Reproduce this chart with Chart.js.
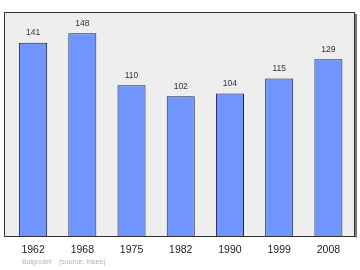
<!DOCTYPE html>
<html><head><meta charset="utf-8">
<script src="https://cdn.jsdelivr.net/npm/chart.js@4"></script>
<style>
html,body{margin:0;padding:0;background:#fff;}
#wrap{position:relative;width:360px;height:270px;}
#cap{position:absolute;left:22px;top:258px;font:7px "Liberation Sans",Arial,sans-serif;color:#b4b4b4;white-space:pre;}
</style></head><body>
<div id="wrap"><canvas id="c" width="360" height="270"></canvas>
<div id="cap">Baignolet    (source: Insee)</div></div>
<script>
const categories = ["1962","1968","1975","1982","1990","1999","2008"];
const population = [141,148,110,102,104,115,129];
const yMax = 163.5;

const frame = {
  id:'frame',
  beforeDatasetsDraw(chart){
    const ctx = chart.ctx;
    const x0=4, y0=12, x1=355, y1=236.5;
    ctx.save();
    ctx.fillStyle='#eeeeee';
    ctx.fillRect(x0,y0,x1-x0,y1-y0);
    ctx.fillStyle='#777';
    ctx.fillRect(x1,y0+2,2,y1-y0-1);
    ctx.strokeStyle='#333';
    ctx.lineWidth=1;
    ctx.strokeRect(x0+0.5,y0+0.5,x1-x0-1,y1-y0-0.5);
    ctx.restore();
  },
  afterDatasetsDraw(chart){
    const ctx = chart.ctx;
    const meta = chart.getDatasetMeta(0);
    ctx.save();
    ctx.font='8.5px "Liberation Sans", Arial, sans-serif';
    ctx.fillStyle='#333';
    ctx.textAlign='center';
    ctx.textBaseline='middle';
    meta.data.forEach((el,i)=>{
      ctx.fillText(String(population[i]), el.x, el.y-10);
    });
    ctx.restore();
  }
};

new Chart(document.getElementById('c'),{
  type:'bar',
  data:{labels:categories,datasets:[{data:population,backgroundColor:'#7095ff',borderColor:'#1a2350',borderWidth:1,categoryPercentage:1,barPercentage:0.57}]},
  options:{
    responsive:false,animation:false,
    layout:{padding:{left:8.5,right:7,top:12,bottom:0}},
    plugins:{legend:{display:false},tooltip:{enabled:false}},
    scales:{
      x:{grid:{display:false,drawTicks:false},border:{display:false},
         ticks:{color:'#222',font:{family:'"Liberation Sans", Arial, sans-serif',size:10.5},padding:8,maxRotation:0},
         afterFit(s){s.height=34;}},
      y:{display:false,min:0,max:yMax}
    }
  },
  plugins:[frame]
});
</script></body></html>
